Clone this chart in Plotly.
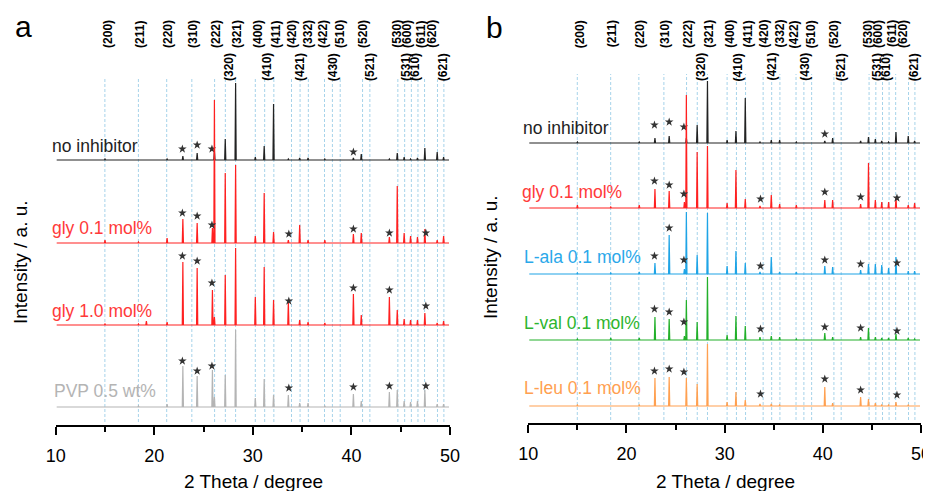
import plotly.graph_objects as go

W, H = 931, 491
PAGE = 8  # the page body adds an 8 px margin; positions below are in screen pixels

# peak positions (2 theta) shared by all patterns
two_theta = [15.0, 18.4, 19.2, 21.3, 22.9, 24.35, 25.9, 26.1, 27.2, 28.25, 30.25, 31.15, 32.1, 33.6,
             34.75, 35.6, 37.3, 40.2, 41.0, 43.85, 44.65, 45.35, 46.0, 46.7, 47.45, 48.7, 49.35]

# reflections of the reference phase
hkl = ["(200)", "(211)", "(220)", "(310)", "(222)", "(320)", "(321)", "(400)", "(410)", "(411)",
       "(420)", "(421)", "(332)", "(422)", "(430)", "(510)", "(520)", "(521)", "(530)", "(531)",
       "(600)", "(610)", "(611)", "(620)", "(621)"]
hkl_2theta = [14.99, 18.39, 21.26, 23.81, 26.12, 27.21, 28.25, 30.25, 31.20, 32.13, 33.92, 34.79,
              35.63, 37.27, 38.07, 38.86, 41.13, 41.87, 44.71, 45.40, 46.08, 46.75, 47.42, 48.73, 49.38]
hkl_row = [0, 0, 0, 0, 0, 1, 0, 0, 1, 0, 0, 1, 0, 0, 1, 0, 0, 1, 0, 1, 0, 1, 0, 0, 1]
hkl_label_x = [15.30, 18.55, 21.39, 23.92, 26.26, 27.58, 28.39, 30.52, 31.40, 32.34, 33.97, 34.78,
               35.59, 37.11, 38.16, 38.83, 41.17, 41.88, 44.61, 45.53, 45.63, 46.44, 47.05, 48.16, 49.31]

# impurity peaks marked with *
star_2theta = [22.85, 24.35, 25.85, 33.65, 40.2, 43.85, 47.55]

# panel a
a_names = ["no inhibitor", "gly 0.1 mol%", "gly 1.0 mol%", "PVP 0.5 wt%"]
a_no_inhibitor = [1, 0, 0, 1, 4, 7, 0, 9, 21, 77, 3, 14, 56, 1, 2, 2, 1, 2, 6, 1, 7, 3, 1, 2, 12, 8, 3]
a_gly_01 = [3, 1, 0, 5, 24, 20, 15, 143, 70, 78, 7, 50, 11, 3, 18, 3, 3, 9, 10, 6, 57, 10, 7, 6, 14, 3, 7]
a_gly_10 = [1, 1, 4, 3, 63, 57, 35, 8, 50, 77, 28, 58, 25, 23, 5, 3, 2, 31, 10, 28, 15, 6, 5, 5, 12, 2, 4]
a_pvp = [0, 1, 0, 3, 41, 31, 37, 10, 32, 77, 9, 28, 12, 12, 4, 4, 1, 13, 6, 15, 17, 6, 5, 6, 17, 3, 3]
a_stars = [
    [11, 15, 11, None, 8, None, None],
    [30, 27, 18, 9, 14, 10, 10],
    [69, 64, 42, 24, 37, 35, 19],
    [46, 36, 41, 19, 20, 21, 21],
]

# panel b
b_names = ["no inhibitor", "gly 0.1 mol%", "L-ala 0.1 mol%", "L-val 0.1 mol%", "L-leu 0.1 mol%"]
b_no_inhibitor = [1, 0, 0, 1, 5, 7, 0, 5, 18, 62, 3, 12, 45, 1, 3, 3, 1, 2, 5, 2, 6, 4, 2, 1, 11, 7, 2]
b_gly_01 = [3, 1, 0, 3, 19, 17, 6, 113, 56, 62, 5, 38, 9, 2, 13, 4, 3, 8, 8, 4, 45, 8, 6, 6, 11, 3, 5]
b_l_ala = [1, 1, 0, 2, 11, 39, 5, 62, 19, 61, 8, 23, 11, 2, 17, 2, 2, 8, 7, 4, 10, 10, 9, 6, 17, 3, 3]
b_l_val = [1, 2, 0, 2, 23, 21, 4, 40, 18, 63, 5, 24, 14, 3, 4, 3, 1, 7, 3, 3, 12, 3, 2, 2, 6, 2, 1]
b_l_leu = [1, 0, 0, 1, 28, 29, 0, 28, 22, 62, 4, 14, 6, 2, 2, 1, 0, 19, 3, 9, 7, 3, 1, 1, 4, 1, 0]
b_stars = [
    [18, 21, 16, None, 9, None, None],
    [27, 23, 14, 9, 16, 11, 10],
    [18, 46, 14, 8, 14, 10, 11],
    [31, 28, 18, 11, 13, 12, 9],
    [35, 37, 34, 12, 27, 16, 11],
]

FONT = "Arial, Liberation Sans, sans-serif"

# vertical stacking (in pixel units of each panel) and colours
a_offsets = [265, 182, 100, 18]
a_colors = ["#222222", "#ff2020", "#ff2020", "#b4b4b4"]
a_label_colors = ["#222222", "#ff3a3a", "#ff3a3a", "#b4b4b4"]
a_label_pos = [(50, 146), (50, 228), (50, 311), (52, 391)]

b_offsets = [280, 215, 149, 83, 17]
b_colors = ["#222222", "#ff2020", "#1ea4e6", "#22b02a", "#ffa050"]
b_label_colors = ["#222222", "#ff3a3a", "#2aa8ea", "#2db52d", "#ffa050"]
b_label_pos = [(521, 128), (520, 192), (522, 257), (522, 323), (522, 388)]


def pattern(heights, offset):
    xs, ys = [10.1], [offset]
    for p, h in zip(two_theta, heights):
        if h > 0:
            xs += [p - 0.06, p, p + 0.06]
            ys += [offset, offset + h, offset]
    xs.append(49.9)
    ys.append(offset)
    return xs, ys


fig = go.Figure()


def add_panel(xa, ya, top, series, offsets, colors, stars):
    # dashed reference lines
    lx, ly = [], []
    for p in hkl_2theta:
        lx += [p, p, None]
        ly += [3, top, None]
    fig.add_trace(go.Scatter(x=lx, y=ly, mode="lines", xaxis=xa, yaxis=ya,
                             line=dict(color="#a6d3ea", width=1, dash="3px,2px"),
                             hoverinfo="skip", showlegend=False))
    for heights, off, col, st in zip(series, offsets, colors, stars):
        xs, ys = pattern(heights, off)
        fig.add_trace(go.Scatter(x=xs, y=ys, mode="lines", xaxis=xa, yaxis=ya,
                                 line=dict(color=col, width=1.2), showlegend=False))
        sx = [x for x, s in zip(star_2theta, st) if s is not None]
        sy = [off + s for s in st if s is not None]
        fig.add_trace(go.Scatter(x=sx, y=sy, mode="markers", xaxis=xa, yaxis=ya,
                                 marker=dict(symbol="star", size=6.5, color="#333333"),
                                 showlegend=False))


add_panel("x", "y", 348, [a_no_inhibitor, a_gly_01, a_gly_10, a_pvp], a_offsets, a_colors, a_stars)
add_panel("x2", "y2", 349, [b_no_inhibitor, b_gly_01, b_l_ala, b_l_val, b_l_leu],
          b_offsets, b_colors, b_stars)

xaxis_style = dict(range=[10, 50], showline=True, linewidth=2, linecolor="black",
                   ticks="outside", ticklen=8, tickwidth=2, tickcolor="black",
                   tickvals=[10, 20, 30, 40, 50], ticklabelstandoff=5,
                   minor=dict(tickvals=[15, 25, 35, 45], ticks="outside", ticklen=5,
                              tickwidth=2, tickcolor="black"),
                   showgrid=False, zeroline=False,
                   tickfont=dict(family=FONT, size=18, color="black"))

annotations = []


def px_note(text, x, y, size, color="black", angle=0, xanchor="center"):
    annotations.append(dict(text=text, x=(x - PAGE) / W, y=1 - (y - PAGE) / H,
                            xref="paper", yref="paper",
                            showarrow=False, textangle=angle, xanchor=xanchor, yanchor="middle",
                            font=dict(family=FONT, size=size, color=color)))


for name, col, (lx, ly) in zip(a_names, a_label_colors, a_label_pos):
    px_note(name, lx, ly, 17.5, col, xanchor="left")
for name, col, (lx, ly) in zip(b_names, b_label_colors, b_label_pos):
    px_note(name, lx, ly, 17.5, col, xanchor="left")

px_note("a", 23, 27, 30)
px_note("b", 494, 28, 30)
px_note("Intensity / a. u.", 20, 262, 19, angle=-90)
px_note("Intensity / a. u.", 491, 257, 19, angle=-90)
px_note("2 Theta / degree", 253, 481, 19)
px_note("2 Theta / degree", 725, 481, 19)

for xr in ["x", "x2"]:
    for label, lx, row in zip(hkl, hkl_label_x, hkl_row):
        ypx = 34 if row == 0 else 67
        annotations.append(dict(text="<b>" + label + "</b>", x=lx, y=1 - (ypx - PAGE) / H,
                                xref=xr, yref="paper", showarrow=False, textangle=-90,
                                xanchor="center", yanchor="middle",
                                font=dict(family=FONT, size=12, color="black")))

fig.update_layout(
    width=W, height=H,
    margin=dict(l=0, r=0, t=0, b=0, pad=0, autoexpand=False),
    paper_bgcolor="white", plot_bgcolor="white",
    xaxis=dict(domain=[(55.7 - PAGE) / W, (450 - PAGE) / W], anchor="y", **xaxis_style),
    xaxis2=dict(domain=[(528.3 - PAGE) / W, (921 - PAGE) / W], anchor="y2", **xaxis_style),
    yaxis=dict(domain=[1 - (425 - PAGE) / H, 1], range=[0, 425 - PAGE], visible=False),
    yaxis2=dict(domain=[1 - (423 - PAGE) / H, 1], range=[0, 423 - PAGE], visible=False, anchor="x2"),
    annotations=annotations,
    showlegend=False,
)

fig.write_html("out.html")
